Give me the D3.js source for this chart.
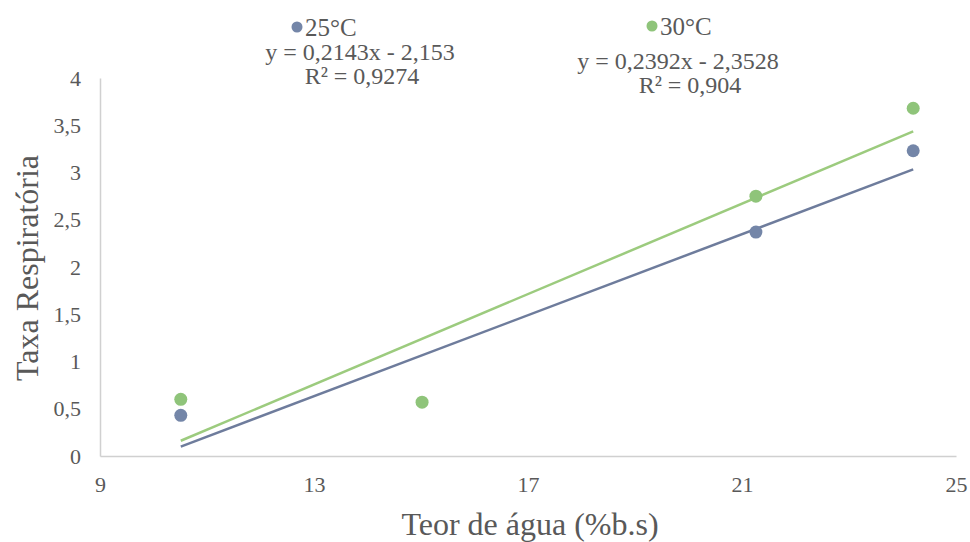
<!DOCTYPE html>
<html><head><meta charset="utf-8">
<script src="https://cdn.jsdelivr.net/npm/d3@7"></script>
<style>body{margin:0;background:#fff}svg{display:block}text{font-family:"Liberation Serif","Times New Roman",serif;fill:#595959}</style>
</head><body><svg id="c" width="970" height="542"></svg>
<script>
const seriesNames = ["25°C", "30°C"];
const seriesColors = ["#7486A8", "#8FC47A"];
const lineColors = ["#6E7C9C", "#9CCB7E"];
const x25 = [10.51, 21.26, 24.2];
const y25 = [0.43, 2.37, 3.23];
const x30 = [10.51, 15.02, 21.26, 24.2];
const y30 = [0.60, 0.57, 2.75, 3.68];
const slopes = [0.2143, 0.2392];
const intercepts = [-2.153, -2.3528];
const equations = ["y = 0,2143x - 2,153", "y = 0,2392x - 2,3528"];
const r2Labels = ["R² = 0,9274", "R² = 0,904"];
const xTicks = [9, 13, 17, 21, 25];
const yTicks = [0, 0.5, 1, 1.5, 2, 2.5, 3, 3.5, 4];
const xTitle = "Teor de água (%b.s)";
const yTitle = "Taxa Respiratória";

const svg = d3.select("#c");
const x = d3.scaleLinear().domain([9, 25]).range([100, 956]);
const y = d3.scaleLinear().domain([0, 4]).range([456, 78]);
const fmt = v => String(v).replace(".", ",");

const xa = svg.append("g").attr("transform", `translate(0,${y(0)})`)
  .call(d3.axisBottom(x).tickValues(xTicks).tickSize(0).tickPadding(20).tickFormat(fmt));
const ya = svg.append("g").attr("transform", `translate(${x(9)},0)`)
  .call(d3.axisLeft(y).tickValues(yTicks).tickSize(0).tickPadding(19).tickFormat(fmt));
[xa, ya].forEach(a => {
  a.select(".domain").attr("stroke", "#d0d0d0").attr("stroke-width", 1.5);
  a.selectAll("text").attr("font-size", 22).attr("fill", "#595959").attr("font-family", "Liberation Serif");
});

const series = [
  {xs: x25, ys: y25},
  {xs: x30, ys: y30}
];
series.forEach((s, i) => {
  const xmin = d3.min(s.xs), xmax = d3.max(s.xs);
  const f = v => slopes[i] * v + intercepts[i];
  svg.append("line")
    .attr("x1", x(xmin)).attr("y1", y(f(xmin)))
    .attr("x2", x(xmax)).attr("y2", y(f(xmax)))
    .attr("stroke", lineColors[i]).attr("stroke-width", 2.5);
});
series.forEach((s, i) => {
  svg.append("g").selectAll("circle").data(s.xs.map((v, j) => [v, s.ys[j]]))
    .join("circle").attr("cx", d => x(d[0])).attr("cy", d => y(d[1]))
    .attr("r", 6.5).attr("fill", seriesColors[i]);
});

const leg = [
  {dot: [297, 27], name: [305, 36], eq: [360, 60], r2: [362, 84]},
  {dot: [652, 26], name: [660, 35], eq: [678, 69], r2: [690, 93]}
];
leg.forEach((l, i) => {
  svg.append("circle").attr("cx", l.dot[0]).attr("cy", l.dot[1]).attr("r", 5.5).attr("fill", seriesColors[i]);
  svg.append("text").attr("x", l.name[0]).attr("y", l.name[1]).attr("font-size", 25).text(seriesNames[i]);
  svg.append("text").attr("x", l.eq[0]).attr("y", l.eq[1]).attr("font-size", 24).attr("text-anchor", "middle").text(equations[i]);
  svg.append("text").attr("x", l.r2[0]).attr("y", l.r2[1]).attr("font-size", 24).attr("text-anchor", "middle").text(r2Labels[i]);
});

svg.append("text").attr("x", 530).attr("y", 535).attr("text-anchor", "middle").attr("font-size", 32).text(xTitle);
svg.append("text").attr("transform", "translate(38,268) rotate(-90)").attr("text-anchor", "middle").attr("font-size", 32).text(yTitle);
</script></body></html>
